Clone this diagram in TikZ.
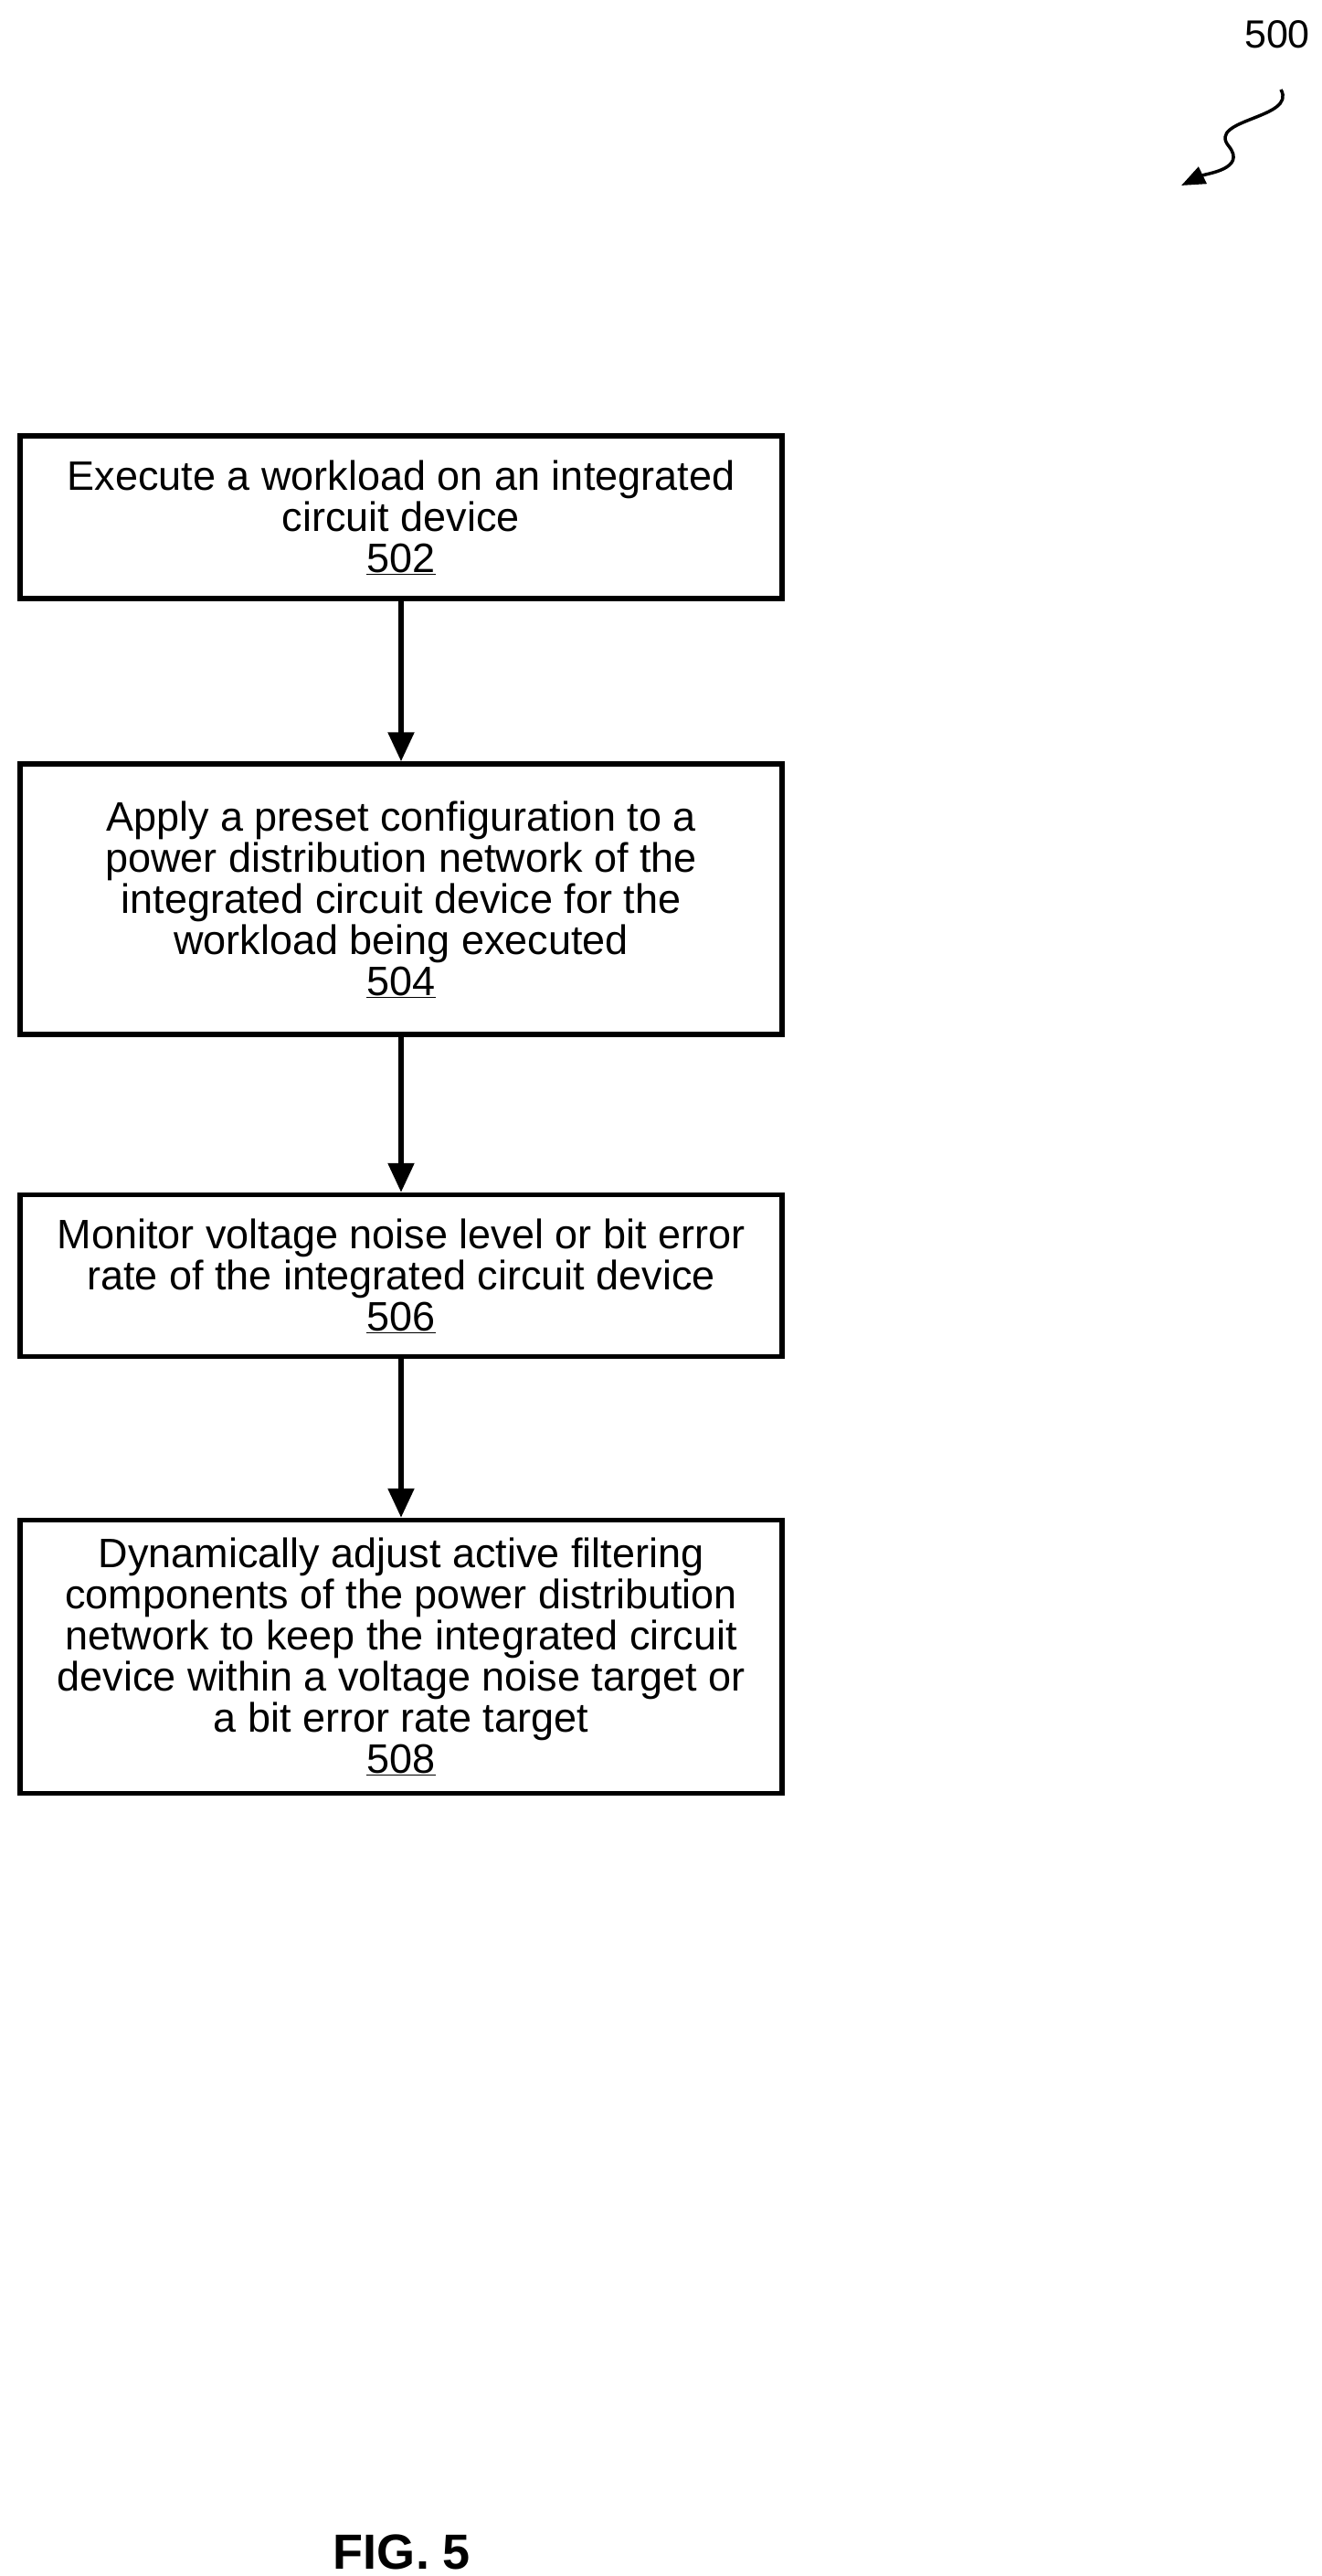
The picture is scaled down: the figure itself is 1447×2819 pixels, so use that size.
\documentclass[tikz,border=0pt]{standalone}
\usepackage{fontspec}
\setmainfont{Liberation Sans}
\usetikzlibrary{arrows.meta}
\begin{document}
\begin{tikzpicture}[x=1pt,y=-1pt,
 box/.style={draw,line width=5.5pt,minimum width=834pt,align=center,inner sep=0pt,font=\fontsize{45}{45}\selectfont},
 arr/.style={line width=5.5pt,-{Triangle[length=32pt,width=28pt]}}]
\useasboundingbox (0,0) rectangle (1447,2819);
\node[box,minimum height=178pt] (b1) at (439,566) {Execute a workload on an integrated\\circuit device\\\underline{502}};
\node[box,minimum height=296pt] (b2) at (439,984) {Apply a preset configuration to a\\power distribution network of the\\integrated circuit device for the\\workload being executed\\\underline{504}};
\node[box,minimum height=177pt] (b3) at (439,1396) {Monitor voltage noise level or bit error\\rate of the integrated circuit device\\\underline{506}};
\node[box,minimum height=299pt] (b4) at (439,1813) {Dynamically adjust active filtering\\components of the power distribution\\network to keep the integrated circuit\\device within a voltage noise target or\\a bit error rate target\\\underline{508}};
\draw[arr] (b1) -- (b2);
\draw[arr] (b2) -- (b3);
\draw[arr] (b3) -- (b4);
\node[font=\fontsize{54}{60}\selectfont\bfseries] (fig) at (440,2793) {FIG. 5};
\node[font=\fontsize{43}{45}\selectfont] (n500) at (1398,38) {500};
\coordinate (s) at (1402,98);
\coordinate (e) at (1293,203);
\draw[line width=3.5pt,-{Triangle[length=26pt,width=20pt]}] (s) .. controls (1420,130) and (1320,130) .. (1345,160) .. controls (1365,185) and (1320,190) .. (e);
\end{tikzpicture}
\end{document}
